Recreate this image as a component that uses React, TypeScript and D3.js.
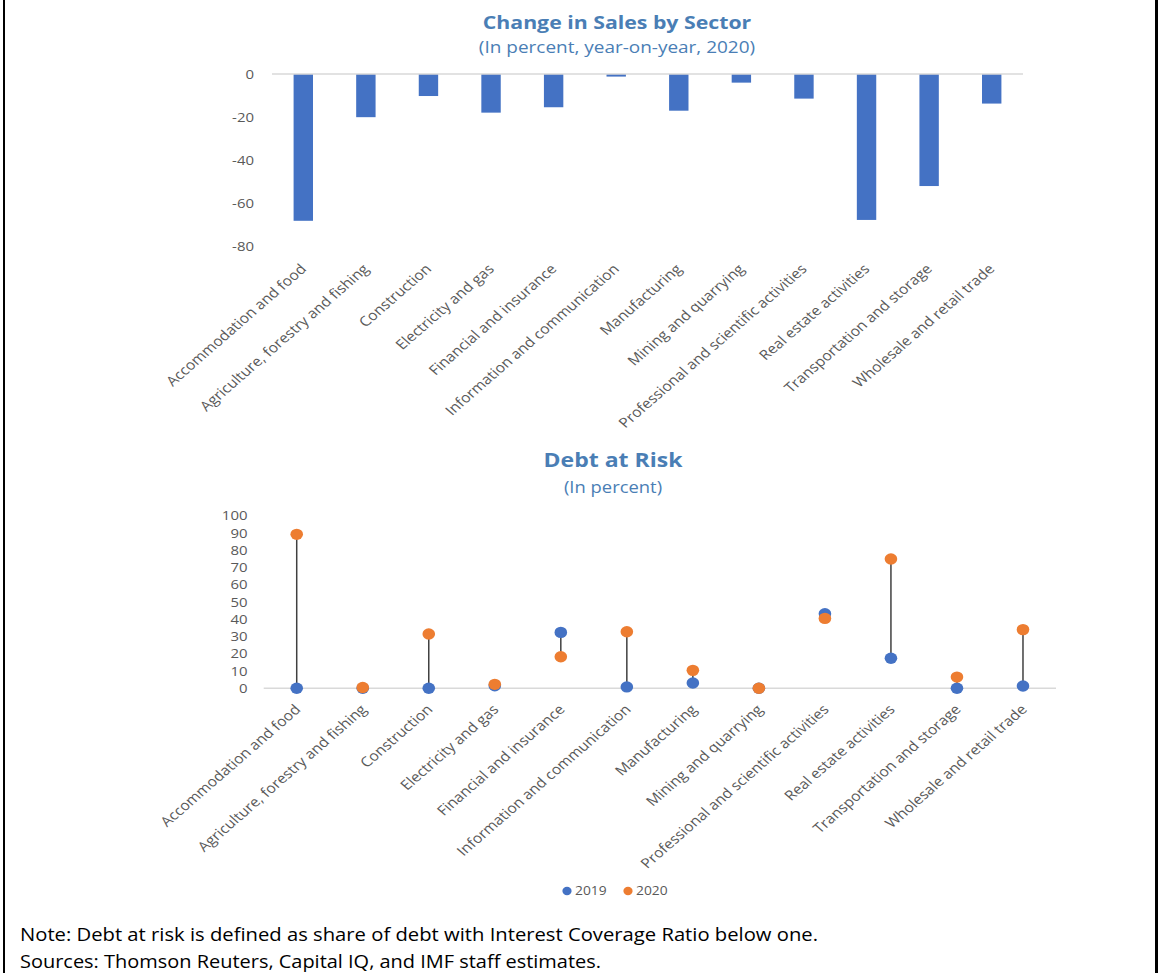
import React from "react";
import * as d3 from "d3";

const sectors = [
  "Accommodation and food",
  "Agriculture, forestry and fishing",
  "Construction",
  "Electricity and gas",
  "Financial and insurance",
  "Information and communication",
  "Manufacturing",
  "Mining and quarrying",
  "Professional and scientific activities",
  "Real estate activities",
  "Transportation and storage",
  "Wholesale and retail trade",
];

const salesChange = [-68, -20, -10.2, -17.9, -15.4, -1.2, -17, -4, -11.4, -67.6, -51.9, -13.7];

const debt2019 = [0, 0, 0, 1.5, 32.4, 0.8, 3.1, 0, 43.2, 17.4, 0, 1.3];
const debt2020 = [89.2, 0.5, 31.5, 2.3, 18.3, 32.8, 10.4, 0, 40.5, 74.9, 6.5, 34];

const salesTicks = [0, -20, -40, -60, -80];
const debtTicks = [0, 10, 20, 30, 40, 50, 60, 70, 80, 90, 100];

const seriesNames = ["2019", "2020"];
const seriesColors = ["#4472C4", "#ED7D31"];

const FONT = "'Open Sans', 'Noto Sans', sans-serif";
const TITLE_COLOR = "#4A7EB5";
const AXIS_COLOR = "#595959";
const SX = 1.15; // horizontal stretch of the reference rendering

export default function App() {
  // Top chart scales
  const x1 = d3.scaleBand<string>().domain(sectors).range([272, 1023]).padding(0);
  const y1 = d3.scaleLinear().domain([-80, 0]).range([246.7, 74]);
  const barW = x1.bandwidth() * 0.31;

  // Bottom chart scales
  const x2 = d3.scaleBand<string>().domain(sectors).range([263.7, 1056]).padding(0);
  const y2 = d3.scaleLinear().domain([0, 100]).range([688.3, 515.7]);

  const sText = (
    key: string,
    x: number,
    y: number,
    content: string | number,
    props: Record<string, any>
  ) => (
    <text key={key} transform={`translate(${x},${y}) scale(${SX},1)`} {...props}>
      {content}
    </text>
  );

  return (
    <svg
      width={1159}
      height={973}
      style={{ position: "absolute", left: 0, top: 0, background: "#fff" }}
      fontFamily={FONT}
    >
      <rect x={0} y={0} width={1159} height={973} fill="#fff" />
      {/* frame */}
      <rect x={3} y={0} width={2} height={973} fill="#000" />
      <rect x={1155} y={0} width={3} height={973} fill="#000" />

      {/* ===== Top chart ===== */}
      {sText("t1", 617, 29, "Change in Sales by Sector", {
        textAnchor: "middle",
        fontSize: 18.5,
        fontWeight: "bold",
        fill: TITLE_COLOR,
      })}
      {sText("s1", 617, 53, "(In percent, year-on-year, 2020)", {
        textAnchor: "middle",
        fontSize: 16.5,
        fill: TITLE_COLOR,
      })}

      {salesTicks.map((t) =>
        sText("st" + t, 254, y1(t), t, {
          dy: "0.35em",
          textAnchor: "end",
          fontSize: 13,
          fill: AXIS_COLOR,
        })
      )}

      {sectors.map((s, i) => {
        const v = salesChange[i];
        const cx = (x1(s) as number) + x1.bandwidth() / 2;
        return (
          <rect
            key={"bar" + i}
            x={cx - barW / 2}
            y={y1(0)}
            width={barW}
            height={y1(v) - y1(0)}
            fill="#4472C4"
          />
        );
      })}
      <line x1={272} x2={1023} y1={y1(0)} y2={y1(0)} stroke="#D9D9D9" strokeWidth={1.5} />

      {sectors.map((s, i) => {
        const cx = (x1(s) as number) + x1.bandwidth() / 2;
        return (
          <text
            key={"xl1" + i}
            transform={`translate(${cx},${266.5}) scale(${SX},1) rotate(-45)`}
            textAnchor="end"
            dy="0.35em"
            fontSize={13.7}
            fill={AXIS_COLOR}
          >
            {s}
          </text>
        );
      })}

      {/* ===== Bottom chart ===== */}
      {sText("t2", 613, 467, "Debt at Risk", {
        textAnchor: "middle",
        fontSize: 20,
        fontWeight: "bold",
        fill: TITLE_COLOR,
      })}
      {sText("s2", 613, 493, "(In percent)", {
        textAnchor: "middle",
        fontSize: 16,
        fill: TITLE_COLOR,
      })}

      {debtTicks.map((t) =>
        sText("dt" + t, 247.5, y2(t), t, {
          dy: "0.35em",
          textAnchor: "end",
          fontSize: 13,
          fill: AXIS_COLOR,
        })
      )}
      <line x1={263.7} x2={1056} y1={y2(0)} y2={y2(0)} stroke="#D9D9D9" strokeWidth={1.5} />

      {sectors.map((s, i) => {
        const cx = (x2(s) as number) + x2.bandwidth() / 2;
        return (
          <line
            key={"hl" + i}
            x1={cx}
            x2={cx}
            y1={y2(debt2019[i])}
            y2={y2(debt2020[i])}
            stroke="#404040"
            strokeWidth={1.5}
          />
        );
      })}
      {[debt2019, debt2020].map((series, si) =>
        sectors.map((s, i) => {
          const cx = (x2(s) as number) + x2.bandwidth() / 2;
          return (
            <ellipse
              key={"pt" + si + "-" + i}
              cx={cx}
              cy={y2(series[i])}
              rx={6.3}
              ry={5.7}
              fill={seriesColors[si]}
            />
          );
        })
      )}

      {sectors.map((s, i) => {
        const cx = (x2(s) as number) + x2.bandwidth() / 2;
        return (
          <text
            key={"xl2" + i}
            transform={`translate(${cx + 1},${707}) scale(${SX},1) rotate(-45)`}
            textAnchor="end"
            dy="0.35em"
            fontSize={13.7}
            fill={AXIS_COLOR}
          >
            {s}
          </text>
        );
      })}

      {/* legend */}
      {seriesNames.map((n, i) => {
        const lx = 567 + i * 61;
        return (
          <g key={"lg" + i}>
            <ellipse cx={lx} cy={891} rx={4.6} ry={4.2} fill={seriesColors[i]} />
            {sText("lt" + i, lx + 8, 891, n, {
              dy: "0.35em",
              fontSize: 12,
              fill: AXIS_COLOR,
            })}
          </g>
        );
      })}

      {/* notes */}
      <text x={20} y={941} fontSize={18} fill="#000" textLength={798} lengthAdjust="spacingAndGlyphs">
        Note: Debt at risk is defined as share of debt with Interest Coverage Ratio below one.
      </text>
      <text x={20} y={968} fontSize={18} fill="#000" textLength={581} lengthAdjust="spacingAndGlyphs">
        Sources: Thomson Reuters, Capital IQ, and IMF staff estimates.
      </text>
    </svg>
  );
}
